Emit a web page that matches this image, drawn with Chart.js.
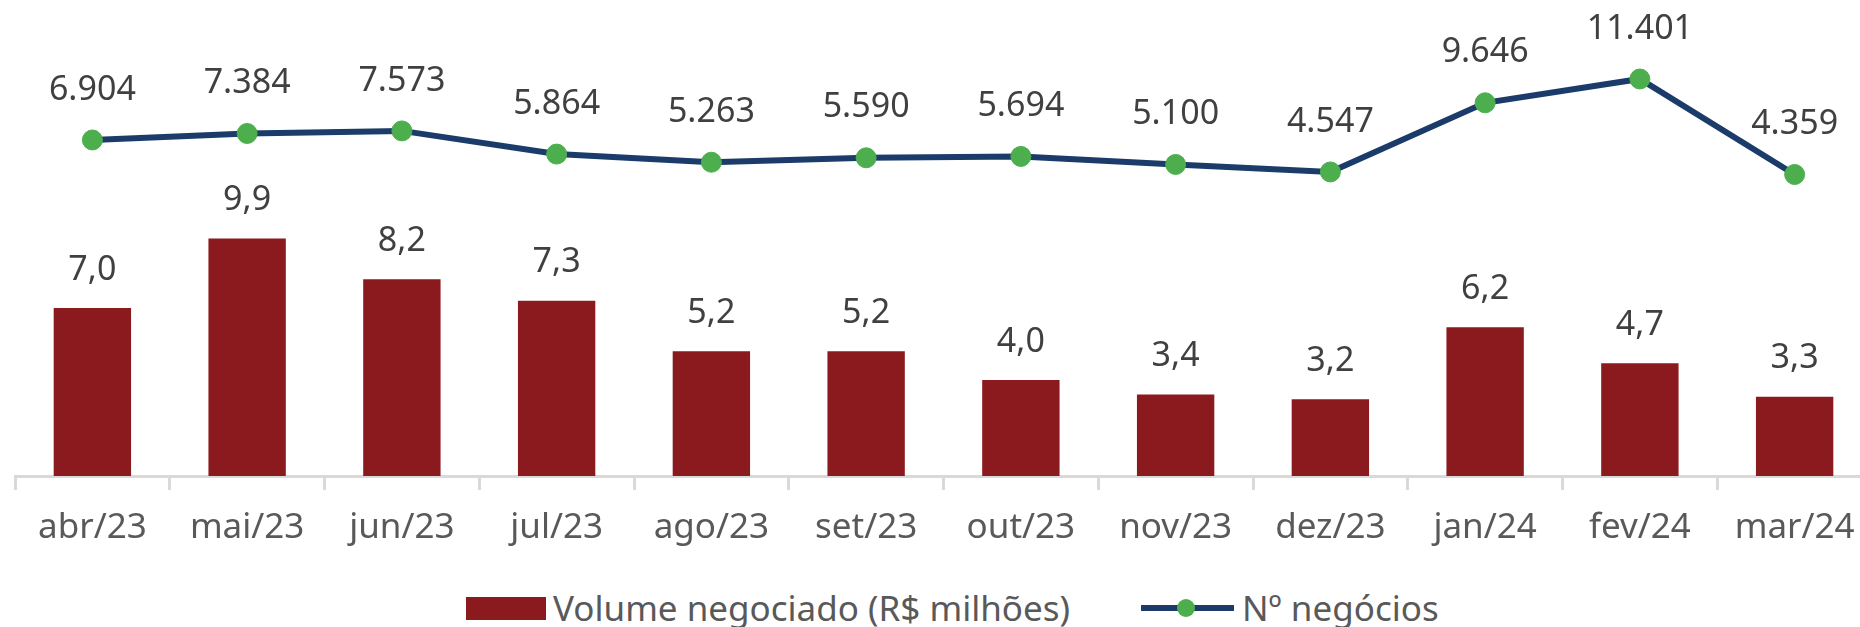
<!DOCTYPE html>
<html>
<head>
<meta charset="utf-8">
<script src="https://cdn.jsdelivr.net/npm/chart.js@4.4.0/dist/chart.umd.min.js"></script>
<style>
    html, body { margin: 0; padding: 0; background: #fff; overflow: hidden; }
    #wrap { position: relative; width: 1860px; height: 627px; overflow: hidden; }
    #box { position: absolute; left: 0; top: 0; width: 1872px; height: 580px; }
    .leg { position: absolute; font-family: 'Noto Sans', sans-serif; font-size: 35px; color: #595959; line-height: 1; white-space: nowrap; }
    #legBar { position: absolute; left: 466px; top: 597px; width: 80px; height: 23px; background: #8b1a1f; }
    #legLine { position: absolute; left: 1141px; top: 605px; width: 93px; height: 6px; background: #1b3b6a; }
    #legDot { position: absolute; left: 1177px; top: 599px; width: 18px; height: 18px; border-radius: 50%; background: #4cae4c; }
</style>
</head>
<body>
<div id="wrap">
    <div id="box"><canvas id="grafico" width="1872" height="580"></canvas></div>
    <div id="legBar"></div>
    <div class="leg" id="legTxt1" style="left:553px; top:590px;">Volume negociado (R$ milhões)</div>
    <div id="legLine"></div>
    <div id="legDot"></div>
    <div class="leg" id="legTxt2" style="left:1242px; top:590px;">Nº negócios</div>
</div>
<script>
// dados do grafico
const meses = ['abr/23', 'mai/23', 'jun/23', 'jul/23', 'ago/23', 'set/23', 'out/23', 'nov/23', 'dez/23', 'jan/24', 'fev/24', 'mar/24'];
const volume = [7.0, 9.9, 8.2, 7.3, 5.2, 5.2, 4.0, 3.4, 3.2, 6.2, 4.7, 3.3];
const negocios = [6904, 7384, 7573, 5864, 5263, 5590, 5694, 5100, 4547, 9646, 11401, 4359];

// format angka gaya pt-BR
function fmtVolume(v) {
    return v.toFixed(1).replace('.', ',');
}
function fmtNegocios(v) {
    return String(v).replace(/\B(?=(\d{3})+(?!\d))/g, '.');
}

// plugin label sederhana
const labelPlugin = {
    id: 'labelPlugin',
    afterDatasetsDraw(chart) {
        const ctx = chart.ctx;
        ctx.save();
        ctx.font = '34px "Noto Sans"';
        ctx.fillStyle = '#404040';
        ctx.textAlign = 'center';
        ctx.textBaseline = 'middle';
        chart.getDatasetMeta(0).data.forEach((el, i) => {
            ctx.fillText(fmtVolume(volume[i]), el.x, el.y - 38);
        });
        chart.getDatasetMeta(1).data.forEach((el, i) => {
            ctx.fillText(fmtNegocios(negocios[i]), el.x, el.y - 50);
        });
        ctx.restore();
    }
};

const config = {
    data: {
        labels: meses,
        datasets: [
            {
                type: 'bar',
                label: 'Volume negociado (R$ milhões)',
                data: volume,
                backgroundColor: '#8b1a1f',
                yAxisID: 'y',
                barPercentage: 0.5,
                categoryPercentage: 1.0,
                order: 2
            },
            {
                type: 'line',
                label: 'Nº negócios',
                data: negocios,
                borderColor: '#1b3b6a',
                borderWidth: 6,
                pointBackgroundColor: '#4cae4c',
                pointBorderColor: '#4cae4c',
                pointBorderWidth: 1,
                pointRadius: 10,
                tension: 0,
                yAxisID: 'y2',
                order: 1
            }
        ]
    },
    options: {
        responsive: false,
        animation: false,
        layout: { autoPadding: false, padding: { left: 15, right: 0, top: 20, bottom: 0 } },
        plugins: {
            legend: { display: false },
            tooltip: { enabled: false }
        },
        scales: {
            x: {
                offset: true,
                grid: {
                    offset: true,
                    drawOnChartArea: false,
                    drawTicks: true,
                    tickLength: 14,
                    color: '#d9d9d9',
                    lineWidth: 3
                },
                border: { display: true, color: '#d9d9d9', width: 3 },
                ticks: {
                    color: '#595959',
                    font: { family: 'Noto Sans', size: 35 },
                    padding: 17,
                    maxRotation: 0,
                    autoSkip: false
                },
                afterFit: function(scale) { scale.height = 104; }
            },
            y: { display: false, min: 0, max: 19.0 },
            y2: { display: false, min: -17872, max: 15750 }
        }
    },
    plugins: [labelPlugin]
};

const myChart = new Chart(document.getElementById('grafico'), config);
</script>
</body>
</html>
